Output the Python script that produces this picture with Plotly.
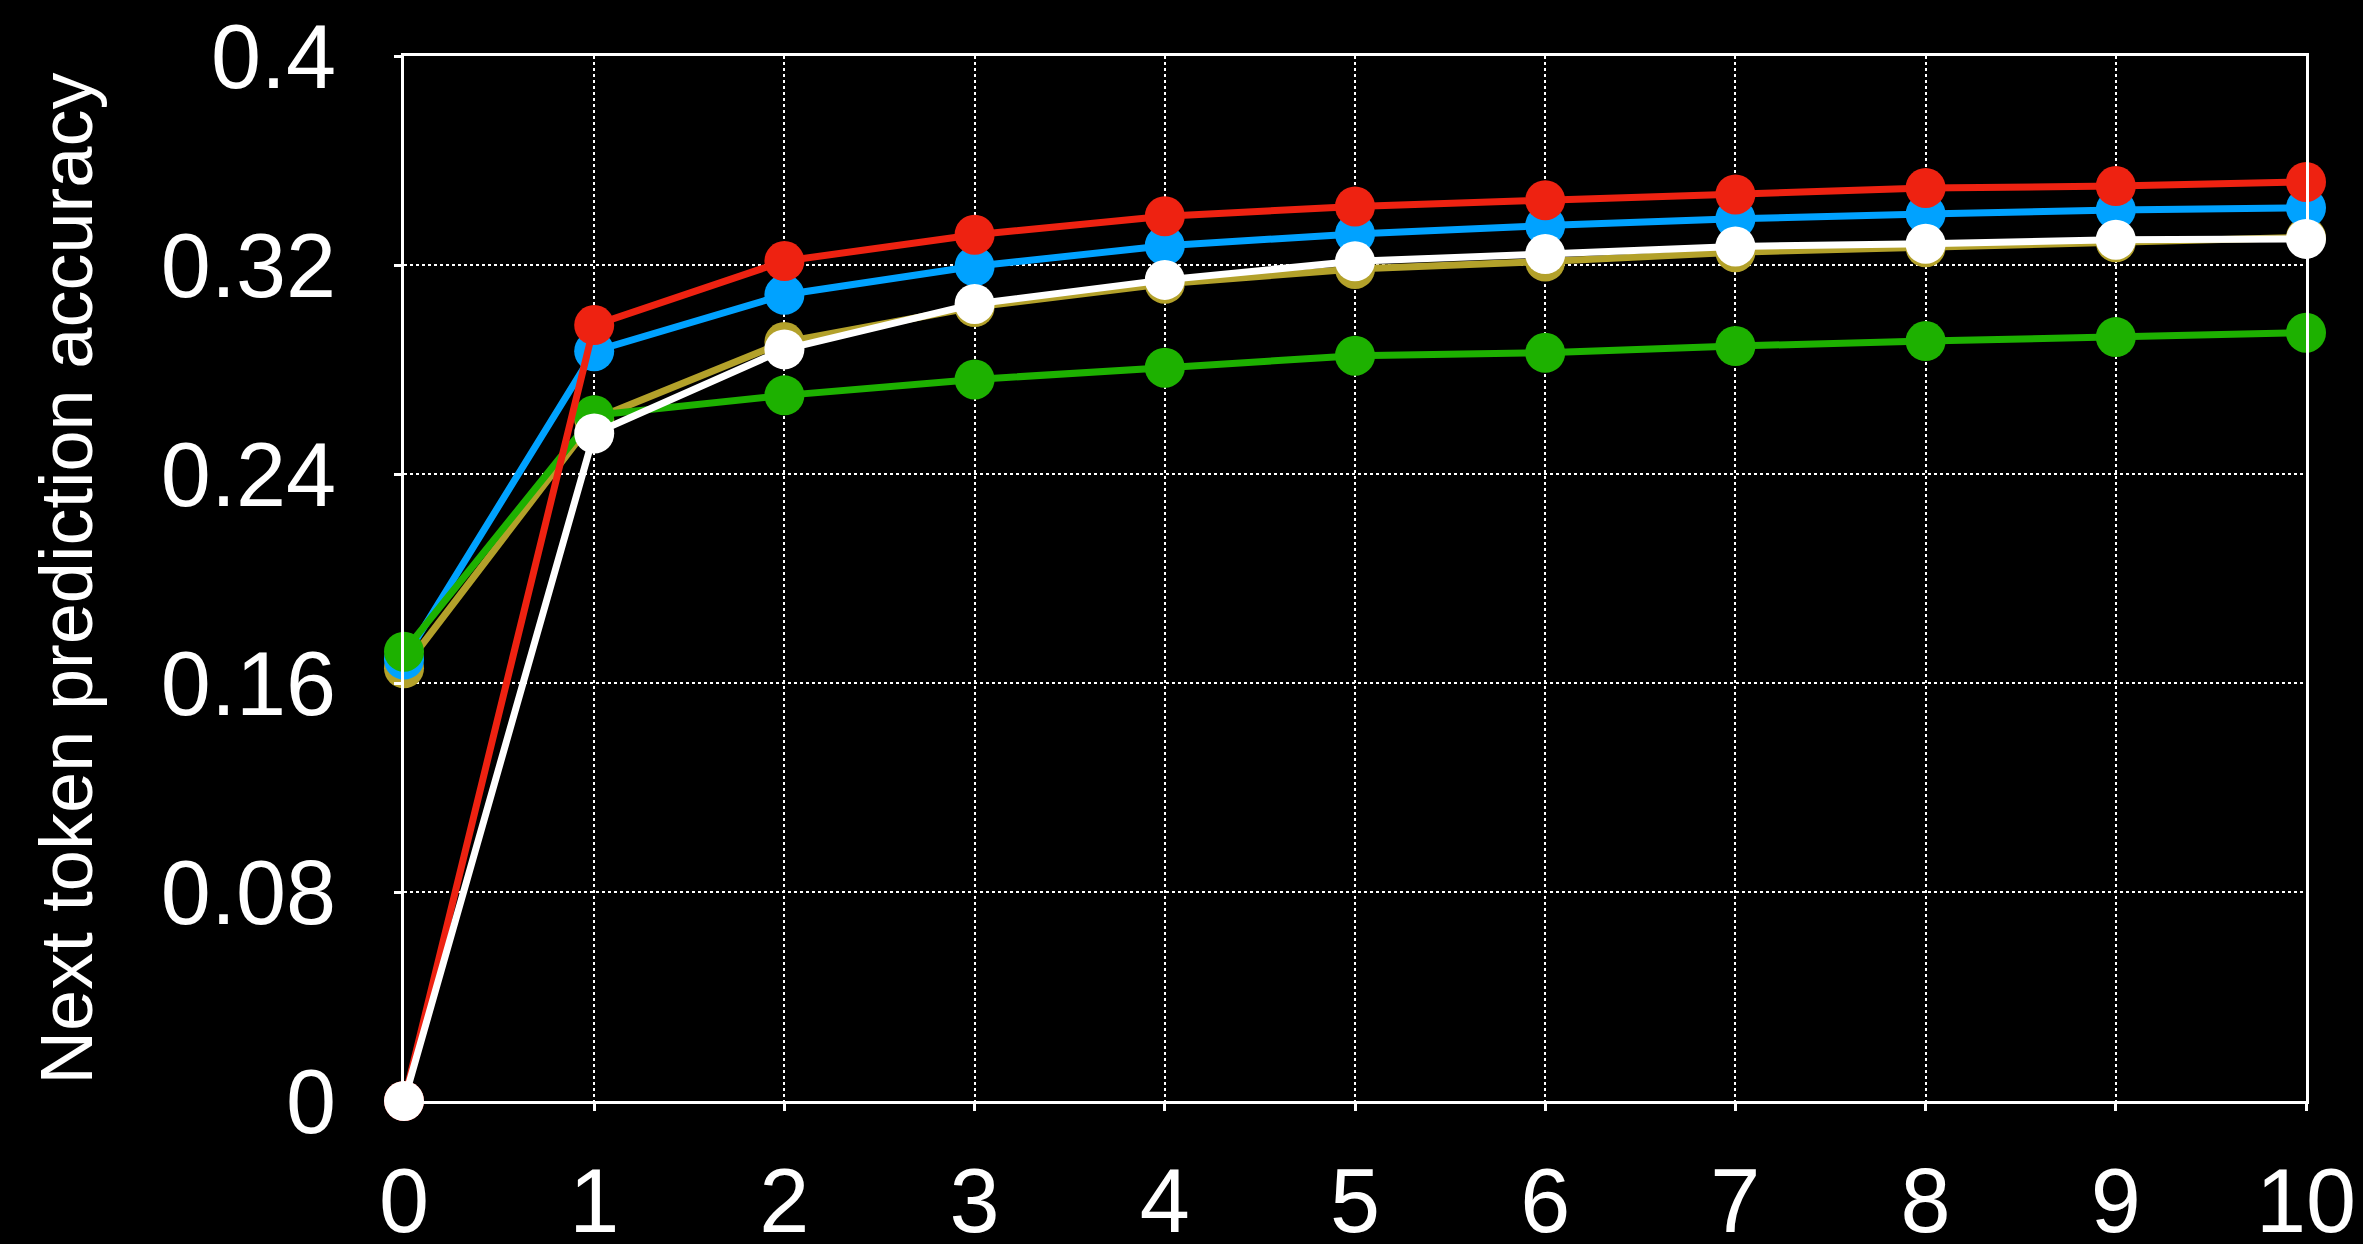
import plotly.graph_objects as go

steps = [0, 1, 2, 3, 4, 5, 6, 7, 8, 9, 10]
olive_vals = [0.1656, 0.261, 0.2905, 0.3039, 0.3128, 0.3185, 0.3213, 0.3249, 0.3268, 0.3287, 0.3306]
blue_vals = [0.169, 0.287, 0.3086, 0.3195, 0.3274, 0.3319, 0.3351, 0.3377, 0.3395, 0.3411, 0.3419]
green_vals = [0.1720, 0.2625, 0.2701, 0.2762, 0.2807, 0.2853, 0.2864, 0.2890, 0.2909, 0.2924, 0.2941]
red_vals = [0.0, 0.297, 0.3215, 0.3316, 0.3387, 0.3424, 0.3448, 0.3470, 0.3495, 0.3502, 0.3518]
white_vals = [0.0, 0.2555, 0.2877, 0.3051, 0.3143, 0.3214, 0.3242, 0.3271, 0.3281, 0.3297, 0.3300]

y_ticks = [0, 0.08, 0.16, 0.24, 0.32, 0.4]
y_tick_labels = ["0", "0.08", "0.16", "0.24", "0.32", "0.4"]

series = [
    ("olive", olive_vals, "#B3A12A"),
    ("blue", blue_vals, "#00A2FF"),
    ("green", green_vals, "#1DB100"),
    ("red", red_vals, "#EE2211"),
    ("white", white_vals, "#FFFFFF"),
]

fig = go.Figure()
for name, vals, color in series:
    fig.add_trace(go.Scatter(
        x=steps, y=vals, name=name, mode="lines+markers",
        line=dict(color=color, width=7),
        marker=dict(color=color, size=40, line=dict(width=0)),
        cliponaxis=False,
    ))

font_family = "Liberation Sans, Arial, Helvetica, sans-serif"
fig.update_layout(
    width=2363, height=1244,
    paper_bgcolor="black", plot_bgcolor="black",
    margin=dict(l=404, r=57, t=56, b=143),
    showlegend=False,
    font=dict(family=font_family, color="white"),
)
fig.update_xaxes(
    range=[0, 10], tickvals=steps, ticktext=[str(s) for s in steps],
    showgrid=True, gridcolor="white", gridwidth=2, griddash="dot",
    showline=True, linecolor="white", linewidth=3, mirror=True,
    ticks="outside", ticklen=7, tickwidth=3, tickcolor="white",
    tickfont=dict(size=90, color="white"), zeroline=False,
    ticklabelstandoff=13, automargin=False,
)
fig.update_yaxes(
    range=[0, 0.4], tickvals=y_ticks, ticktext=y_tick_labels,
    showgrid=True, gridcolor="white", gridwidth=2, griddash="dot",
    showline=True, linecolor="white", linewidth=3, mirror=True,
    ticks="outside", ticklen=7, tickwidth=3, tickcolor="white",
    tickfont=dict(size=90, color="white"), zeroline=False,
    ticklabelstandoff=40, automargin=False,
    title=dict(text="Next token prediction accuracy", font=dict(size=74, color="white"), standoff=44),
)

fig.write_html(
    "out.html",
    config={"displayModeBar": False},
    post_script="document.body.style.margin='0';document.body.style.background='black';",
)
